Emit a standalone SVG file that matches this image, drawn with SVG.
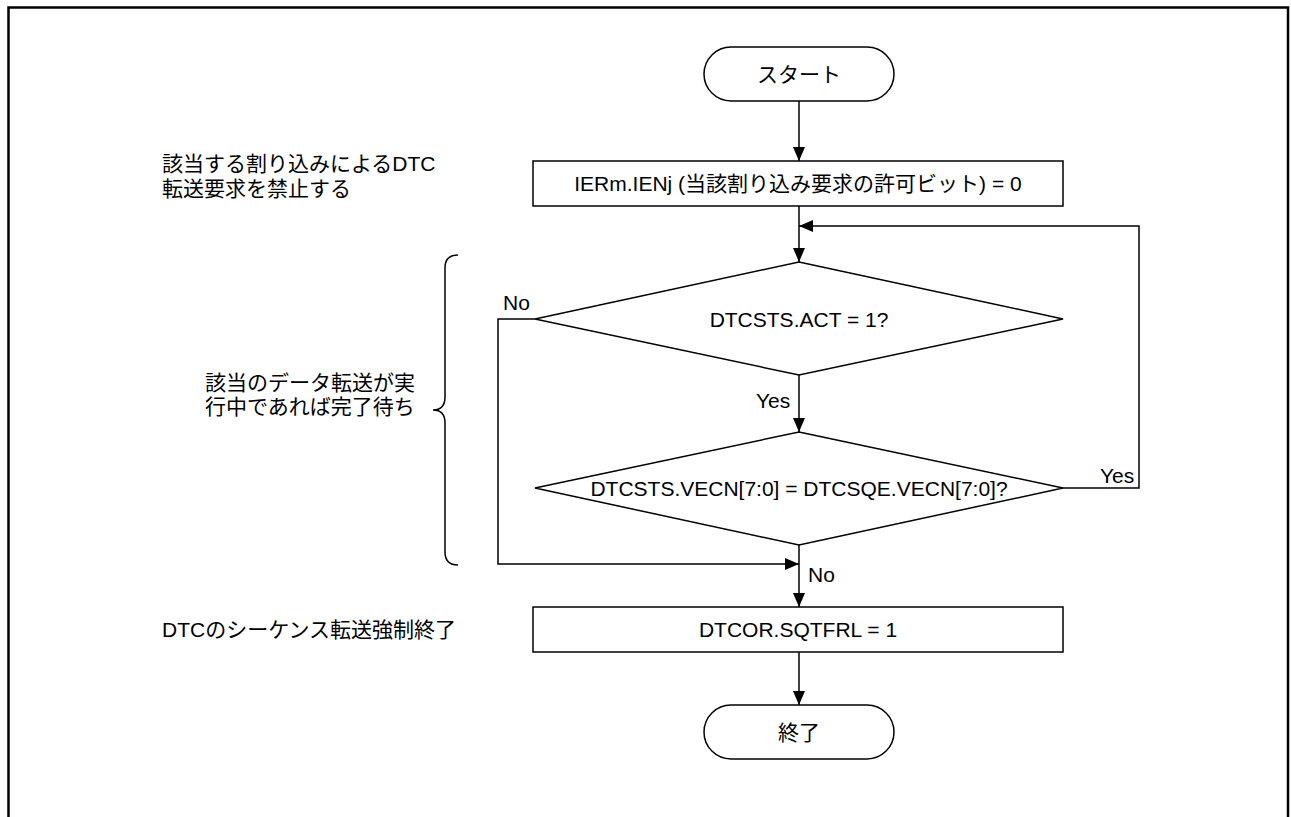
<svg xmlns="http://www.w3.org/2000/svg" width="1291" height="817" viewBox="0 0 1291 817">
<defs>
<marker id="ah" markerWidth="14" markerHeight="12" refX="14" refY="6" orient="auto" markerUnits="userSpaceOnUse">
<path d="M0,0 L14,6 L0,12 Z" fill="#000"/>
</marker>
<style>
.shape{fill:#fff;stroke:#000;stroke-width:1.5}
.line{fill:none;stroke:#000;stroke-width:1.5}
.t{font-family:"Liberation Sans","Noto Sans CJK JP",sans-serif;font-size:21px;fill:#000}
.c{text-anchor:middle}
</style>
</defs>
<rect width="1291" height="817" fill="#fff"/>
<path d="M8.5,817 V7.5 H1288 V817" fill="none" stroke="#000" stroke-width="2.5"/>
<g id="connectors">
<line class="line" x1="799" y1="101" x2="799" y2="161" marker-end="url(#ah)"/>
<line class="line" x1="799" y1="206" x2="799" y2="262" marker-end="url(#ah)"/>
<polyline class="line" points="1063,488 1139,488 1139,226 799,226" marker-end="url(#ah)"/>
<line class="line" x1="799" y1="375" x2="799" y2="432" marker-end="url(#ah)"/>
<polyline class="line" points="535,319 498,319 498,564 799,564" marker-end="url(#ah)"/>
<line class="line" x1="799" y1="545" x2="799" y2="607" marker-end="url(#ah)"/>
<line class="line" x1="799" y1="652" x2="799" y2="705" marker-end="url(#ah)"/>
<text class="t" x="503" y="310">No</text>
<text class="t" x="756" y="408">Yes</text>
<text class="t" x="1100" y="483">Yes</text>
<text class="t" x="808" y="582">No</text>
</g>
<g id="start">
<rect class="shape" x="704" y="47" width="190" height="54" rx="27"/>
<text class="t c" x="799" y="81.5">スタート</text>
</g>
<g id="box1">
<rect class="shape" x="533" y="161" width="530" height="45"/>
<text class="t c" x="798" y="191">IERm.IENj (当該割り込み要求の許可ビット) = 0</text>
</g>
<g id="dec1">
<polygon class="shape" points="799,262 1063,319 799,375 535,319"/>
<text class="t c" x="799" y="326.5">DTCSTS.ACT = 1?</text>
</g>
<g id="dec2">
<polygon class="shape" points="799,432 1063,488 799,545 535,488"/>
<text class="t c" x="799" y="495.5">DTCSTS.VECN[7:0] = DTCSQE.VECN[7:0]?</text>
</g>
<g id="box2">
<rect class="shape" x="533" y="607" width="530" height="45"/>
<text class="t c" x="798" y="637">DTCOR.SQTFRL = 1</text>
</g>
<g id="end">
<rect class="shape" x="704" y="705" width="190" height="54" rx="27"/>
<text class="t c" x="799" y="739.5">終了</text>
</g>
<g id="notes">
<text class="t" x="162" y="171">該当する割り込みによるDTC</text>
<text class="t" x="162" y="196">転送要求を禁止する</text>
<text class="t" x="205" y="390">該当のデータ転送が実</text>
<text class="t" x="205" y="414">行中であれば完了待ち</text>
<text class="t" x="162" y="637">DTCのシーケンス転送強制終了</text>
<path class="line" d="M458,255 Q445,255 445,268 V397 Q445,410 433,410 Q445,410 445,423 V552 Q445,565 458,565"/>
</g>
</svg>
